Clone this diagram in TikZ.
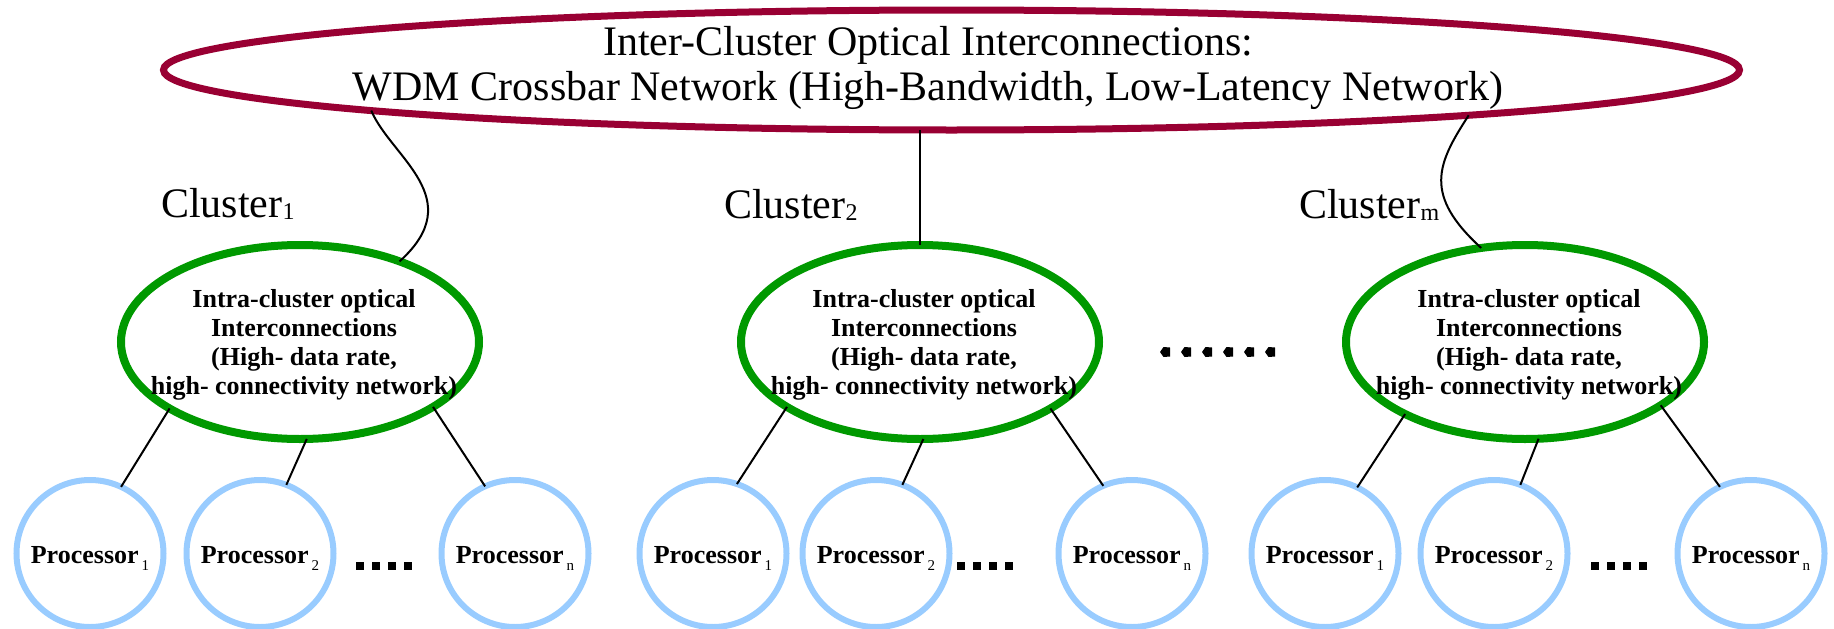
\documentclass[tikz,border=0pt]{standalone}
\usepackage{fontspec}
\setmainfont{Liberation Serif}
\usetikzlibrary{shapes.geometric}

\definecolor{interred}{RGB}{153,0,51}
\definecolor{intragreen}{RGB}{0,153,0}
\definecolor{procblue}{RGB}{153,204,255}

% subscripts of the cluster and processor labels
\newcommand{\csub}[1]{\raisebox{-2pt}{\fontsize{24}{24}\selectfont #1}}
\newcommand{\psub}[1]{\kern3pt\raisebox{-7pt}{\mdseries\fontsize{15}{15}\selectfont #1}}

\tikzset{
  interring/.style={ellipse, draw=interred, line width=7pt, minimum width=1576pt,
    minimum height=120pt, inner sep=0pt, outer sep=0pt},
  intraring/.style={ellipse, draw=intragreen, line width=8pt, minimum width=358pt,
    minimum height=194pt, inner sep=0pt, outer sep=0pt},
  procring/.style={circle, draw=procblue, line width=6pt, minimum size=147pt,
    inner sep=0pt, outer sep=0pt},
  wire/.style={draw=black, line width=2pt},
  bigtext/.style={font=\fontsize{42}{45}\selectfont, align=center, inner sep=0pt},
  intratext/.style={font=\bfseries\fontsize{26}{29}\selectfont, align=center, inner sep=0pt},
  clustertext/.style={font=\fontsize{42}{45}\selectfont, anchor=base west, inner sep=0pt},
  proctext/.style={font=\bfseries\fontsize{26}{29}\selectfont, anchor=base, inner sep=0pt},
}

\begin{document}
\begin{tikzpicture}[x=1pt, y=-1pt]
\useasboundingbox (0,0) rectangle (1834,629);

% top level: WDM crossbar
\node[interring] (big) at (951.5,70) {};
\node[bigtext] (bigt) at (928,68) {Inter-Cluster Optical Interconnections:\\
  WDM Crossbar Network (High-Bandwidth, Low-Latency Network)};

% cluster labels
\node[clustertext] (l1) at (161,217) {Cluster\csub{1}};
\node[clustertext] (l2) at (724,218) {Cluster\csub{2}};
\node[clustertext] (l3) at (1299,218) {Cluster\csub{m}};

% intra-cluster networks
\node[intraring] (c1) at (300,342) {};
\node[intraring] (c2) at (920,342) {};
\node[intraring] (c3) at (1525,342) {};
\foreach \c in {c1,c2,c3}{
  \node[intratext] (\c t) at ([xshift=4pt,yshift=-3pt]\c.center)
    {Intra-cluster optical\\ Interconnections\\ (High- data rate,\\ high- connectivity network)};
}

% processors
\node[procring] (p11) at (90,553.5) {};
\node[procring] (p12) at (260,553.5) {};
\node[procring] (p1n) at (515,553.5) {};
\node[procring] (p21) at (713,553.5) {};
\node[procring] (p22) at (876,553.5) {};
\node[procring] (p2n) at (1132,553.5) {};
\node[procring] (p31) at (1325,553.5) {};
\node[procring] (p32) at (1494,553.5) {};
\node[procring] (p3n) at (1751,553.5) {};
\foreach \k in {1,2,3}{
  \node[proctext] (p\k1t) at ([yshift=-10pt]p\k1.center) {Processor\psub{1}};
  \node[proctext] (p\k2t) at ([yshift=-10pt]p\k2.center) {Processor\psub{2}};
  \node[proctext] (p\k nt) at ([yshift=-10pt]p\k n.center) {Processor\psub{n}};
}

% links from the crossbar down to each cluster
\draw[wire] (big.184.93) .. controls +(20,47) and +(70,-63) .. (c1.39);
\draw[wire] (c2.north |- big.south) -- (c2.north);
\draw[wire] (big.355.14) .. controls +(-32,49) and +(-58,-53) .. (c3.115.1);

% links from each cluster to its processors
\draw[wire] (c1.207.4) -- (p11.65.2);
\draw[wire] (c1.274.7) -- (p12.69.4);
\draw[wire] (c1.334.6) -- (p1n.114.2);
\draw[wire] (c2.206.7) -- (p21.71);
\draw[wire] (c2.272.2) -- (p22.69);
\draw[wire] (c2.333.1) -- (p2n.113.5);
\draw[wire] (c3.211) -- (p31.64.8);
\draw[wire] (c3.278.8) -- (p32.69);
\draw[wire] (c3.335.5) -- (p3n.115);

% ellipsis between processors
\foreach \x in {356,372,388,404, 957,973,989,1005, 1591,1607,1623,1639}
  \fill (\x,562) rectangle +(8,8);

% ellipsis between clusters
\foreach \x in {1165,1186,1207,1228,1249,1270}
  \fill (\x-5,352) -- (\x-1.5,347) -- (\x+5,347.5) -- (\x+5,356.5) -- (\x-1.5,357) -- cycle;
\end{tikzpicture}
\end{document}
